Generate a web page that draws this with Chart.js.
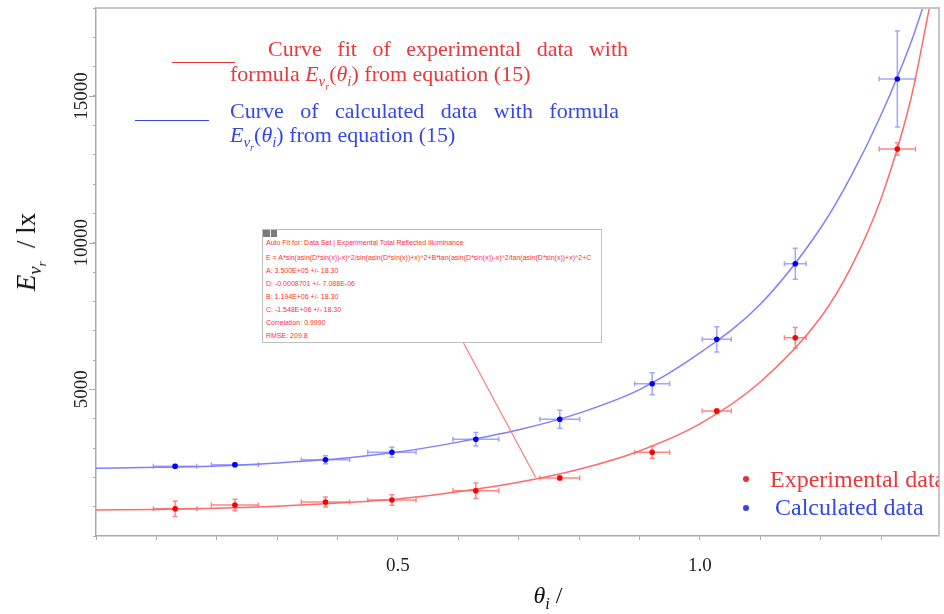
<!DOCTYPE html>
<html>
<head>
<meta charset="utf-8">
<script src="https://cdn.jsdelivr.net/npm/chart.js@4.4.1/dist/chart.umd.min.js"></script>
<style>
  html, body { margin: 0; padding: 0; background: #fff; }
  #wrap { position: relative; width: 944px; height: 614px; overflow: hidden; }
  #chart { position: absolute; left: 0; top: 0; }
  .serif { position: absolute; font-family: "Liberation Serif", "Times New Roman", serif; font-size: 22px; line-height: 22px; white-space: nowrap; }
  .just { white-space: normal; text-align: justify; text-align-last: justify; }
  .red { color: #e8383a; }
  .blue { color: #3448e8; }
  .rule { position: absolute; height: 0; border-top: 1px solid; }
  .m { font-style: italic; }
  .sb { font-size: 68%; position: relative; top: 0.35em; }
  #fitbox { position: absolute; left: 262px; top: 229px; width: 338px; height: 112px; border: 1.5px solid #bdbdbd; background: #fff; }
  #fitbox div.t { position: absolute; left: 3px; font-family: "Liberation Sans", Arial, sans-serif; font-size: 7px; line-height: 10px; color: #ff3030; white-space: nowrap; }
  .ico { position: absolute; top: 0; width: 7px; height: 7px; background: #7a7a7a; }
  .dot { position: absolute; width: 6px; height: 6px; border-radius: 3px; }
  #keys { position: absolute; left: 740px; top: 460px; width: 199px; height: 70px; overflow: hidden; }
</style>
</head>
<body>
<div id="wrap">
  <canvas id="chart" width="944" height="614"></canvas>

  <div class="rule red" style="left:172px; top:62px; width:63px;"></div>
  <div class="serif red just" style="left:268px; top:38px; width:360px;">Curve fit of experimental data with</div>
  <div class="serif red" style="left:230px; top:63px;">formula <span class="m">E</span><span class="sb"><span class="m">v</span><span class="sb"><span class="m">r</span></span></span>(<span class="m">θ</span><span class="sb"><span class="m">i</span></span>) from equation (15)</div>

  <div class="rule blue" style="left:135px; top:120px; width:74px;"></div>
  <div class="serif blue just" style="left:230px; top:100px; width:389px;">Curve of calculated data with formula</div>
  <div class="serif blue" style="left:230px; top:124px;"><span class="m">E</span><span class="sb"><span class="m">v</span><span class="sb"><span class="m">r</span></span></span>(<span class="m">θ</span><span class="sb"><span class="m">i</span></span>) from equation (15)</div>

  <div id="fitbox">
    <div class="ico" style="left:0px;"></div>
    <div class="ico" style="left:8px; width:6px;"></div>
    <div class="t" style="top:8px;">Auto Fit for: Data Set | Experimental Total Reflected Illuminance</div>
    <div class="t" style="top:23px;">E = A*sin(asin(D*sin(x))-x)^2/sin(asin(D*sin(x))+x)^2+B*tan(asin(D*sin(x))-x)^2/tan(asin(D*sin(x))+x)^2+C</div>
    <div class="t" style="top:35.5px;">A: 3.500E+05 +/- 18.30</div>
    <div class="t" style="top:48.5px;">D: -0.0008701 +/- 7.088E-06</div>
    <div class="t" style="top:61.5px;">B: 1.194E+06 +/- 18.30</div>
    <div class="t" style="top:74.5px;">C: -1.548E+06 +/- 18.30</div>
    <div class="t" style="top:87.5px;">Correlation: 0.9990</div>
    <div class="t" style="top:100.5px;">RMSE: 209.8</div>
  </div>

  <div id="keys">
    <div class="dot" style="left:3px; top:16px; background:#e82e2e;"></div>
    <div class="serif red" style="left:30px; top:7px; font-size:24px; line-height:24px;">Experimental data</div>
    <div class="dot" style="left:3px; top:44.5px; background:#2f45f0;"></div>
    <div class="serif blue" style="left:35px; top:35px; font-size:24px; line-height:24px;">Calculated data</div>
  </div>

  <div class="serif" style="left:29px; top:252px; font-size:27px; line-height:27px; color:#111; transform:translate(-50%,-50%) rotate(-90deg);"><span class="m">E</span><span class="sb"><span class="m">v</span><span class="sb"><span class="m">r</span></span></span>&nbsp; / lx</div>
  <div class="serif" style="left:548px; top:596px; font-size:24px; line-height:24px; color:#111; transform:translate(-50%,-50%);"><span class="m">θ</span><span class="sb"><span class="m">i</span></span> /</div>
</div>

<script>
// angle of incidence (rad) and its uncertainty
const theta = [0.131, 0.230, 0.380, 0.490, 0.629, 0.768, 0.921, 1.028, 1.158, 1.327];
const thetaErr = [0.036, 0.039, 0.040, 0.040, 0.038, 0.033, 0.029, 0.024, 0.018, 0.030];

// experimental and calculated reflected illuminance (lx)
const expE = [931, 1057, 1159, 1227, 1544, 1977, 2853, 4261, 6760, 13193];
const expErr = [262, 200, 170, 182, 262, 70, 205, 70, 350, 210];
const calcE = [2376, 2431, 2601, 2853, 3297, 3978, 5192, 6705, 9283, 15579];
const calcErr = [60, 60, 136, 170, 228, 307, 375, 432, 529, 1640];

// curves
const expFitTheta = [0, 0.1, 0.2, 0.3, 0.4, 0.5, 0.6, 0.7, 0.8, 0.9, 1.0, 1.1, 1.2, 1.25, 1.3, 1.35, 1.38];
const expFitE = [890, 905, 945, 1015, 1125, 1265, 1510, 1830, 2275, 2900, 3820, 5250, 7450, 9150, 11500, 14950, 18000];
const calcFitTheta = [0, 0.1, 0.2, 0.3, 0.4, 0.5, 0.6, 0.7, 0.8, 0.9, 1.0, 1.1, 1.2, 1.25, 1.3, 1.35, 1.369];
const calcFitE = [2310, 2340, 2390, 2490, 2630, 2860, 3200, 3620, 4190, 4990, 6240, 7900, 10500, 12250, 14350, 16850, 18000];

// point on the fit curve the annotation box points to
const noteAnchor = [0.728, 2000];

// ticks
const xTickValues = [0, 0.1, 0.2, 0.3, 0.4, 0.5, 0.6, 0.7, 0.8, 0.9, 1.0, 1.1, 1.2, 1.3];
const xTickLabels = ["0.5", "1.0"];
const yTickValues = [0, 1000, 2000, 3000, 4000, 5000, 6000, 7000, 8000, 9000, 10000, 11000, 12000, 13000, 14000, 15000, 16000, 17000, 18000];
const yTickLabels = ["5000", "10000", "15000"];

const pts = (xs, ys) => xs.map((x, i) => ({ x: x, y: ys[i] }));

const extras = {
  id: "extras",
  beforeDatasetsDraw(chart) {
    const ctx = chart.ctx, xs = chart.scales.x, ys = chart.scales.y, a = chart.chartArea;
    ctx.save();
    ctx.beginPath();
    ctx.rect(a.left, a.top, a.right - a.left, a.bottom - a.top);
    ctx.clip();
    const bars = [[expE, expErr, "rgba(255,70,70,0.65)"], [calcE, calcErr, "rgba(90,90,255,0.55)"]];
    bars.forEach(([vals, errs, col]) => {
      ctx.strokeStyle = col;
      ctx.lineWidth = 1.5;
      theta.forEach((t, i) => {
        const px = xs.getPixelForValue(t), py = ys.getPixelForValue(vals[i]);
        const x0 = xs.getPixelForValue(t - thetaErr[i]), x1 = xs.getPixelForValue(t + thetaErr[i]);
        const y0 = ys.getPixelForValue(vals[i] - errs[i]), y1 = ys.getPixelForValue(vals[i] + errs[i]);
        ctx.beginPath();
        ctx.moveTo(x0, py); ctx.lineTo(x1, py);
        ctx.moveTo(x0, py - 2.5); ctx.lineTo(x0, py + 2.5);
        ctx.moveTo(x1, py - 2.5); ctx.lineTo(x1, py + 2.5);
        ctx.moveTo(px, y0); ctx.lineTo(px, y1);
        ctx.moveTo(px - 2.5, y0); ctx.lineTo(px + 2.5, y0);
        ctx.moveTo(px - 2.5, y1); ctx.lineTo(px + 2.5, y1);
        ctx.stroke();
      });
    });
    ctx.restore();
  },
  afterDraw(chart) {
    const ctx = chart.ctx, xs = chart.scales.x, ys = chart.scales.y, a = chart.chartArea;
    ctx.save();
    // top and right frame
    ctx.strokeStyle = "#c6c6c6";
    ctx.lineWidth = 2;
    ctx.beginPath();
    ctx.moveTo(a.left, a.top); ctx.lineTo(a.right, a.top); ctx.lineTo(a.right, a.bottom);
    ctx.stroke();
    // longer marks at the labelled y ticks
    ctx.strokeStyle = "#aaa";
    ctx.lineWidth = 1;
    yTickLabels.forEach(l => {
      const y = Math.round(ys.getPixelForValue(parseFloat(l))) + 0.5;
      ctx.beginPath();
      ctx.moveTo(a.left - 7, y); ctx.lineTo(a.left, y);
      ctx.stroke();
    });
    // leader line from the fit box
    ctx.strokeStyle = "#ff7a7a";
    ctx.lineWidth = 1.2;
    ctx.beginPath();
    ctx.moveTo(463.5, 343);
    ctx.lineTo(xs.getPixelForValue(noteAnchor[0]), ys.getPixelForValue(noteAnchor[1]));
    ctx.stroke();
    // vertical y tick labels
    ctx.fillStyle = "#222";
    ctx.font = "19px 'Liberation Serif'";
    ctx.textAlign = "center";
    ctx.textBaseline = "middle";
    yTickLabels.forEach(l => {
      const y = ys.getPixelForValue(parseFloat(l));
      ctx.save();
      ctx.translate(82, y);
      ctx.rotate(-Math.PI / 2);
      ctx.fillText(l, 0, 0);
      ctx.restore();
    });
    ctx.restore();
  }
};

new Chart(document.getElementById("chart"), {
  type: "scatter",
  data: {
    datasets: [
      { data: pts(theta, expE), backgroundColor: "#ff0000", pointRadius: 2.8, borderWidth: 0, order: 0 },
      { data: pts(theta, calcE), backgroundColor: "#0000ff", pointRadius: 2.8, borderWidth: 0, order: 0 },
      { data: pts(expFitTheta, expFitE), showLine: true, pointRadius: 0, borderColor: "#ff6a6a", borderWidth: 1.5, cubicInterpolationMode: "monotone", order: 2 },
      { data: pts(calcFitTheta, calcFitE), showLine: true, pointRadius: 0, borderColor: "#7f7fff", borderWidth: 1.5, cubicInterpolationMode: "monotone", order: 2 }
    ]
  },
  options: {
    responsive: false,
    animation: false,
    devicePixelRatio: 1,
    layout: { padding: { top: 8, right: 5, left: 0, bottom: 0 } },
    plugins: { legend: { display: false }, tooltip: { enabled: false } },
    scales: {
      x: {
        type: "linear",
        min: 0,
        max: 1.396,
        afterBuildTicks: s => { s.ticks = xTickValues.map(v => ({ value: v })); },
        afterFit: s => { s.height = 78; },
        grid: { drawOnChartArea: false, drawTicks: true, tickLength: 4, color: "#aaa" },
        border: { display: true, color: "#aaa", width: 1.5 },
        ticks: {
          padding: 15,
          maxRotation: 0,
          autoSkip: false,
          color: "#222",
          font: { family: "Liberation Serif", size: 19 },
          callback: v => xTickLabels.find(l => Math.abs(parseFloat(l) - v) < 1e-6) || ""
        }
      },
      y: {
        type: "linear",
        min: 0,
        max: 18000,
        afterBuildTicks: s => { s.ticks = yTickValues.map(v => ({ value: v })); },
        afterFit: s => { s.width = 96; },
        grid: { drawOnChartArea: false, drawTicks: true, tickLength: 3, color: "#aaa" },
        border: { display: true, color: "#aaa", width: 1.5 },
        ticks: { display: false }
      }
    }
  },
  plugins: [extras]
});
</script>
</body>
</html>
